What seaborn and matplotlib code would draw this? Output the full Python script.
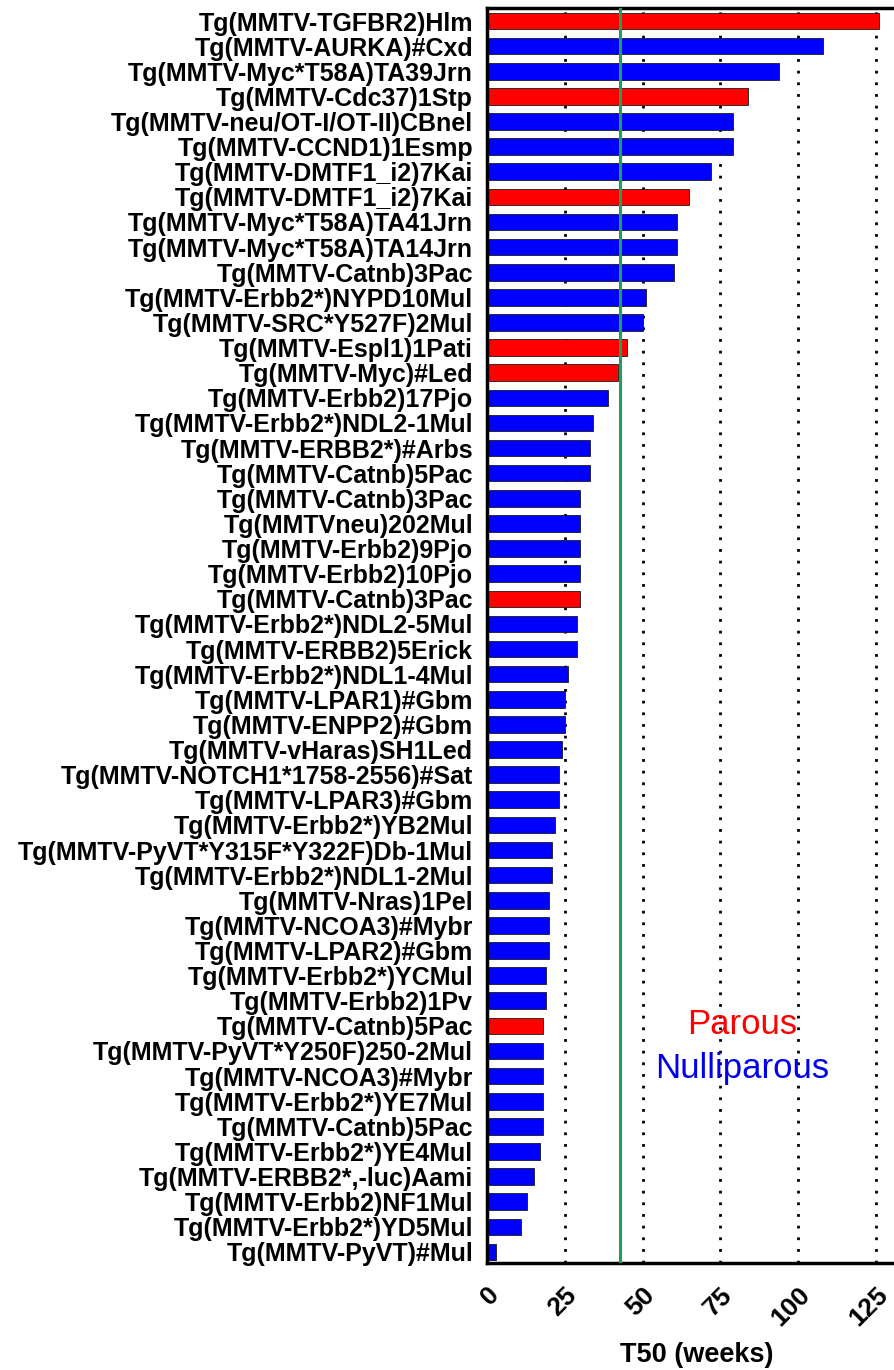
import numpy as np
import pandas as pd
import matplotlib
matplotlib.use("Agg")
import matplotlib.pyplot as plt
import seaborn as sns

# strain names, top to bottom
strains = [
    "Tg(MMTV-TGFBR2)Hlm", "Tg(MMTV-AURKA)#Cxd", "Tg(MMTV-Myc*T58A)TA39Jrn",
    "Tg(MMTV-Cdc37)1Stp", "Tg(MMTV-neu/OT-I/OT-II)CBnel", "Tg(MMTV-CCND1)1Esmp",
    "Tg(MMTV-DMTF1_i2)7Kai", "Tg(MMTV-DMTF1_i2)7Kai", "Tg(MMTV-Myc*T58A)TA41Jrn",
    "Tg(MMTV-Myc*T58A)TA14Jrn", "Tg(MMTV-Catnb)3Pac", "Tg(MMTV-Erbb2*)NYPD10Mul",
    "Tg(MMTV-SRC*Y527F)2Mul", "Tg(MMTV-Espl1)1Pati", "Tg(MMTV-Myc)#Led",
    "Tg(MMTV-Erbb2)17Pjo", "Tg(MMTV-Erbb2*)NDL2-1Mul", "Tg(MMTV-ERBB2*)#Arbs",
    "Tg(MMTV-Catnb)5Pac", "Tg(MMTV-Catnb)3Pac", "Tg(MMTVneu)202Mul",
    "Tg(MMTV-Erbb2)9Pjo", "Tg(MMTV-Erbb2)10Pjo", "Tg(MMTV-Catnb)3Pac",
    "Tg(MMTV-Erbb2*)NDL2-5Mul", "Tg(MMTV-ERBB2)5Erick", "Tg(MMTV-Erbb2*)NDL1-4Mul",
    "Tg(MMTV-LPAR1)#Gbm", "Tg(MMTV-ENPP2)#Gbm", "Tg(MMTV-vHaras)SH1Led",
    "Tg(MMTV-NOTCH1*1758-2556)#Sat", "Tg(MMTV-LPAR3)#Gbm", "Tg(MMTV-Erbb2*)YB2Mul",
    "Tg(MMTV-PyVT*Y315F*Y322F)Db-1Mul", "Tg(MMTV-Erbb2*)NDL1-2Mul", "Tg(MMTV-Nras)1Pel",
    "Tg(MMTV-NCOA3)#Mybr", "Tg(MMTV-LPAR2)#Gbm", "Tg(MMTV-Erbb2*)YCMul",
    "Tg(MMTV-Erbb2)1Pv", "Tg(MMTV-Catnb)5Pac", "Tg(MMTV-PyVT*Y250F)250-2Mul",
    "Tg(MMTV-NCOA3)#Mybr", "Tg(MMTV-Erbb2*)YE7Mul", "Tg(MMTV-Catnb)5Pac",
    "Tg(MMTV-Erbb2*)YE4Mul", "Tg(MMTV-ERBB2*,-luc)Aami", "Tg(MMTV-Erbb2)NF1Mul",
    "Tg(MMTV-Erbb2*)YD5Mul", "Tg(MMTV-PyVT)#Mul",
]

t50 = [
    126, 108, 94, 84, 79, 79, 72, 65, 61, 61,
    60, 51, 50, 45, 42, 39, 34, 33, 33, 30,
    30, 30, 30, 30, 29, 29, 26, 25, 25, 24,
    23, 23, 22, 21, 21, 20, 20, 20, 19, 19,
    18, 18, 18, 18, 18, 17, 15, 13, 11, 3,
]

# P = parous, N = nulliparous
parity = [
    "P", "N", "N", "P", "N", "N", "N", "P", "N", "N",
    "N", "N", "N", "P", "P", "N", "N", "N", "N", "N",
    "N", "N", "N", "P", "N", "N", "N", "N", "N", "N",
    "N", "N", "N", "N", "N", "N", "N", "N", "N", "N",
    "P", "N", "N", "N", "N", "N", "N", "N", "N", "N",
]

median_t50 = 42.8
x_ticks = [0, 25, 50, 75, 100, 125]

df = pd.DataFrame({"pos": np.arange(len(strains)), "t50": t50, "parity": parity})

sns.set_style("white")
plt.rcParams["font.family"] = ["Liberation Sans", "DejaVu Sans"]
plt.rcParams["text.color"] = "black"
plt.rcParams["xtick.color"] = "black"
plt.rcParams["ytick.color"] = "black"
plt.rcParams["axes.labelcolor"] = "black"

fig = plt.figure(figsize=(8.94, 13.7), dpi=100)
ax = fig.add_axes([0.5447, 0.0781, 0.4698, 0.9161])

# dotted grid below bars
for xt in x_ticks[1:]:
    ax.axvline(xt, color="black", ls=(0, (1, 3.2)), lw=2.0, zorder=0)

sns.barplot(data=df, x="t50", y="pos", hue="parity", orient="h",
            palette={"P": "#ff0000", "N": "#0000ff"}, dodge=False,
            saturation=1, width=0.66, edgecolor="#1a1a1a", linewidth=0.6,
            legend=False, ax=ax, zorder=2)

ax.axvline(median_t50, color="#1f9e5c", lw=2.2, zorder=3)

ax.set_xlim(0, 135)
ax.set_ylim(len(strains) - 0.56, -0.52)
ax.set_yticks(np.arange(len(strains)))
ax.set_yticklabels(strains, fontsize=18, fontweight="bold")
ax.set_xticks(x_ticks)
ax.set_xticklabels([str(v) for v in x_ticks], fontsize=19, fontweight="bold",
                   rotation=45, ha="right", va="top", rotation_mode="anchor")
ax.set_ylabel("")
ax.set_xlabel("T50 (weeks)", fontsize=19.5, fontweight="bold", labelpad=8)

ax.tick_params(axis="y", direction="out", length=6, width=1.6, pad=4)
ax.tick_params(axis="x", direction="out", length=8, width=2.2, pad=6)
ax.grid(False)

for side in ["left", "bottom", "top"]:
    ax.spines[side].set_visible(True)
    ax.spines[side].set_color("black")
    ax.spines[side].set_linewidth(2.5)
ax.spines["right"].set_visible(False)

ax.text(0.607, 0.190, "Parous", color="#ff0000", fontsize=25,
        ha="center", va="center", transform=ax.transAxes)
ax.text(0.607, 0.155, "Nulliparous", color="#0000ee", fontsize=25,
        ha="center", va="center", transform=ax.transAxes)

fig.savefig("out.png", dpi=100)
plt.close(fig)
